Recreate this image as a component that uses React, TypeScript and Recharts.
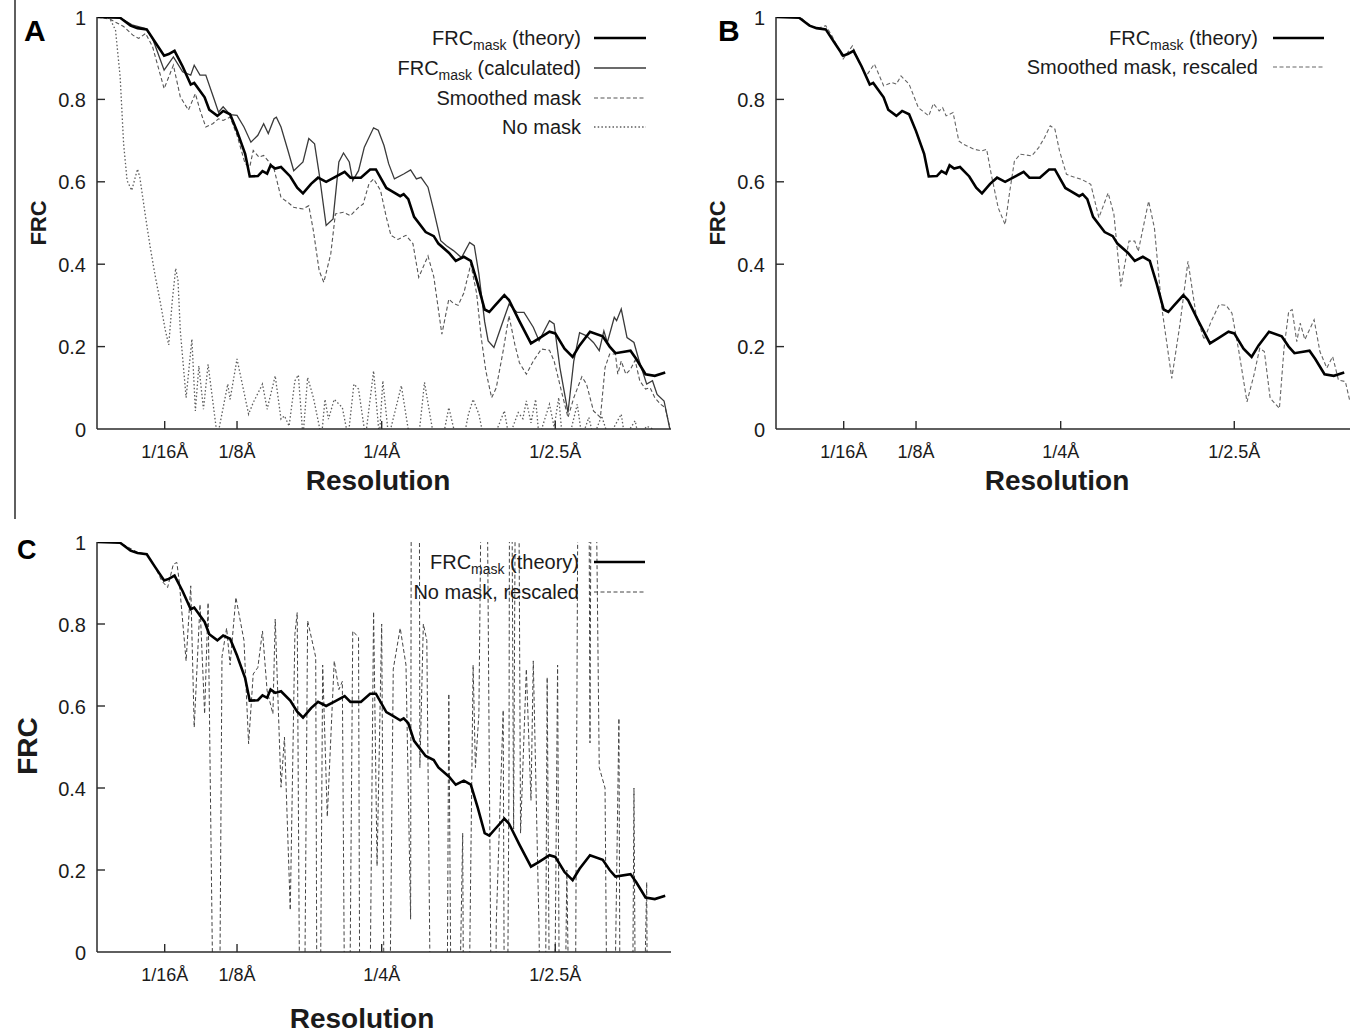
import React from "react";
import { LineChart, Line, XAxis, YAxis } from "recharts";

const FONT = '"Liberation Sans", Arial, Helvetica, sans-serif';
const INK = "#1b1b1b";
const FRAME = "#2a2a2a";

// spatial frequency (1/Å) on x, FRC on y
const freqDomain = [0.004, 0.5];
const freqTicks = [0.0625, 0.125, 0.25, 0.4];
const freqTickLabels = ["1/16Å", "1/8Å", "1/4Å", "1/2.5Å"];
const frcTicks = [0, 0.2, 0.4, 0.6, 0.8, 1];
const frcTickLabels = ["0", "0.2", "0.4", "0.6", "0.8", "1"];
const mirrorTicks = [0.2, 0.4, 0.6, 0.8];

// [frequency, FRC]
const theoryFrc: [number, number][] = [
  [0.004, 1], [0.024, 0.998], [0.033, 0.979], [0.039, 0.973], [0.047, 0.97], [0.054, 0.94],
  [0.062, 0.906], [0.066, 0.91], [0.071, 0.918], [0.078, 0.88], [0.085, 0.836], [0.088, 0.84],
  [0.097, 0.805], [0.101, 0.775], [0.108, 0.76], [0.113, 0.772], [0.119, 0.764], [0.125, 0.723],
  [0.132, 0.668], [0.136, 0.613], [0.143, 0.614], [0.147, 0.626], [0.151, 0.62], [0.154, 0.64],
  [0.158, 0.632], [0.163, 0.636], [0.171, 0.613], [0.177, 0.586], [0.182, 0.572], [0.189, 0.595],
  [0.195, 0.61], [0.202, 0.6], [0.21, 0.612], [0.218, 0.624], [0.223, 0.61], [0.232, 0.61],
  [0.24, 0.63], [0.245, 0.63], [0.254, 0.585], [0.259, 0.577], [0.266, 0.565], [0.269, 0.57],
  [0.273, 0.558], [0.278, 0.515], [0.288, 0.478], [0.295, 0.468], [0.299, 0.45], [0.308, 0.428],
  [0.314, 0.408], [0.321, 0.418], [0.327, 0.408], [0.333, 0.352], [0.339, 0.29], [0.343, 0.284],
  [0.348, 0.3], [0.356, 0.325], [0.36, 0.313], [0.369, 0.262], [0.379, 0.208], [0.386, 0.22],
  [0.395, 0.236], [0.4, 0.232], [0.408, 0.195], [0.415, 0.175], [0.421, 0.203], [0.43, 0.236],
  [0.441, 0.225], [0.447, 0.2], [0.452, 0.184], [0.465, 0.19], [0.47, 0.17], [0.478, 0.133],
  [0.486, 0.129], [0.495, 0.137],
];

const calculatedFrc: [number, number][] = [
  [0.004, 1], [0.024, 0.998], [0.035, 0.98], [0.046, 0.972], [0.052, 0.948], [0.062, 0.871],
  [0.07, 0.903], [0.078, 0.867], [0.085, 0.859], [0.088, 0.883], [0.093, 0.859], [0.098, 0.859],
  [0.105, 0.802], [0.109, 0.769], [0.113, 0.782], [0.119, 0.763], [0.125, 0.761], [0.131, 0.733],
  [0.137, 0.696], [0.143, 0.713], [0.148, 0.741], [0.152, 0.717], [0.157, 0.753], [0.159, 0.757],
  [0.163, 0.733], [0.169, 0.676], [0.174, 0.627], [0.182, 0.648], [0.187, 0.705], [0.192, 0.692],
  [0.196, 0.619], [0.202, 0.494], [0.208, 0.51], [0.213, 0.648], [0.217, 0.67], [0.222, 0.648],
  [0.225, 0.603], [0.23, 0.627], [0.235, 0.684], [0.243, 0.731], [0.247, 0.725], [0.252, 0.688],
  [0.256, 0.644], [0.261, 0.607], [0.269, 0.619], [0.275, 0.629], [0.28, 0.607], [0.284, 0.611],
  [0.29, 0.587], [0.295, 0.53], [0.301, 0.457], [0.306, 0.445], [0.312, 0.433], [0.319, 0.416],
  [0.326, 0.453], [0.33, 0.445], [0.334, 0.376], [0.339, 0.26], [0.342, 0.214], [0.347, 0.198],
  [0.354, 0.255], [0.36, 0.303], [0.367, 0.283], [0.373, 0.283], [0.381, 0.247], [0.386, 0.214],
  [0.395, 0.263], [0.399, 0.255], [0.404, 0.149], [0.411, 0.04], [0.416, 0.165], [0.421, 0.234],
  [0.427, 0.226], [0.433, 0.21], [0.438, 0.19], [0.442, 0.238], [0.445, 0.21], [0.451, 0.271],
  [0.453, 0.263], [0.457, 0.291], [0.462, 0.222], [0.468, 0.21], [0.472, 0.17], [0.479, 0.109],
  [0.484, 0.117], [0.488, 0.084], [0.494, 0.068], [0.499, 0],
];

const smoothedFrc: [number, number][] = [
  [0.004, 1], [0.015, 0.995], [0.027, 0.977], [0.035, 0.956], [0.04, 0.948], [0.046, 0.96],
  [0.052, 0.928], [0.062, 0.826], [0.07, 0.883], [0.076, 0.806], [0.083, 0.774], [0.089, 0.814],
  [0.093, 0.774], [0.098, 0.733], [0.104, 0.741], [0.109, 0.753], [0.113, 0.749], [0.119, 0.757],
  [0.125, 0.713], [0.132, 0.644], [0.136, 0.636], [0.139, 0.676], [0.144, 0.66], [0.148, 0.664],
  [0.154, 0.644], [0.157, 0.631], [0.163, 0.562], [0.169, 0.55], [0.174, 0.538], [0.182, 0.534],
  [0.187, 0.542], [0.191, 0.481], [0.196, 0.384], [0.2, 0.356], [0.206, 0.425], [0.21, 0.522],
  [0.217, 0.526], [0.223, 0.518], [0.23, 0.538], [0.234, 0.546], [0.239, 0.595], [0.243, 0.607],
  [0.249, 0.579], [0.254, 0.514], [0.258, 0.47], [0.264, 0.46], [0.271, 0.47], [0.277, 0.45],
  [0.282, 0.368], [0.29, 0.42], [0.295, 0.37], [0.302, 0.23], [0.308, 0.315], [0.312, 0.305],
  [0.316, 0.3], [0.321, 0.33], [0.327, 0.4], [0.332, 0.33], [0.336, 0.222], [0.34, 0.141],
  [0.345, 0.076], [0.349, 0.1], [0.355, 0.19], [0.36, 0.275], [0.365, 0.206], [0.369, 0.161],
  [0.375, 0.133], [0.381, 0.165], [0.388, 0.194], [0.395, 0.191], [0.399, 0.165], [0.406, 0.084],
  [0.411, 0.028], [0.416, 0.076], [0.423, 0.127], [0.427, 0.109], [0.433, 0.044], [0.439, 0.028],
  [0.443, 0.149], [0.447, 0.182], [0.452, 0.182], [0.454, 0.133], [0.457, 0.165], [0.461, 0.133],
  [0.465, 0.145], [0.469, 0.167], [0.473, 0.117], [0.478, 0.097], [0.482, 0.1], [0.486, 0.076],
  [0.491, 0.06], [0.495, 0.052], [0.499, 0.003],
];

const noMaskFrc: [number, number][] = [
  [0.004, 1], [0.015, 0.997], [0.02, 0.968], [0.024, 0.855], [0.027, 0.692], [0.03, 0.603],
  [0.034, 0.579], [0.039, 0.631], [0.041, 0.611], [0.046, 0.514], [0.05, 0.441], [0.054, 0.376],
  [0.059, 0.303], [0.063, 0.24], [0.066, 0.204], [0.069, 0.31], [0.072, 0.39], [0.074, 0.36],
  [0.076, 0.238], [0.081, 0.076], [0.086, 0.218], [0.089, 0.044], [0.092, 0.153], [0.096, 0.048],
  [0.1, 0.157], [0.108, -0.02], [0.117, 0.109], [0.119, 0.072], [0.125, 0.17], [0.135, 0.036],
  [0.139, 0.064], [0.147, 0.109], [0.151, 0.048], [0.158, 0.129], [0.163, 0.024], [0.166, 0.032],
  [0.17, 0.007], [0.175, 0.117], [0.178, 0.131], [0.182, -0.02], [0.186, 0.125], [0.191, 0.076],
  [0.198, -0.02], [0.201, 0.072], [0.204, 0.024], [0.209, 0.072], [0.216, 0.052], [0.221, -0.02],
  [0.226, 0.109], [0.23, 0.097], [0.236, -0.02], [0.243, 0.141], [0.248, -0.02], [0.251, 0.117],
  [0.256, -0.02], [0.267, 0.105], [0.274, -0.02], [0.282, -0.02], [0.287, 0.113], [0.295, -0.02],
  [0.303, -0.02], [0.308, 0.052], [0.314, -0.02], [0.321, -0.02], [0.325, 0.036], [0.329, 0.072],
  [0.334, 0.036], [0.338, -0.02], [0.347, -0.02], [0.356, 0.044], [0.36, -0.02], [0.368, 0.04],
  [0.372, 0.025], [0.375, 0.068], [0.379, 0.015], [0.383, 0.072], [0.386, -0.02], [0.395, 0.06],
  [0.399, 0.005], [0.403, 0.076], [0.406, -0.02], [0.412, -0.02], [0.419, 0.06], [0.423, -0.02],
  [0.429, 0.028], [0.433, -0.02], [0.44, 0.032], [0.446, -0.02], [0.457, 0.036], [0.46, -0.02],
  [0.469, 0.02], [0.472, -0.02], [0.479, 0.007], [0.499, -0.02],
];

const smoothedRescaledFrc: [number, number][] = [
  [0.004, 1], [0.025, 1], [0.033, 0.979], [0.041, 0.973], [0.047, 0.979], [0.053, 0.951],
  [0.062, 0.898], [0.066, 0.914], [0.07, 0.93], [0.075, 0.894], [0.082, 0.857], [0.089, 0.886],
  [0.097, 0.833], [0.104, 0.841], [0.108, 0.837], [0.112, 0.857], [0.119, 0.837], [0.127, 0.78],
  [0.136, 0.76], [0.14, 0.79], [0.145, 0.772], [0.148, 0.78], [0.151, 0.76], [0.157, 0.768],
  [0.162, 0.699], [0.166, 0.691], [0.175, 0.679], [0.182, 0.675], [0.186, 0.679], [0.19, 0.618],
  [0.196, 0.537], [0.202, 0.496], [0.206, 0.577], [0.21, 0.65], [0.215, 0.667], [0.225, 0.663],
  [0.231, 0.683], [0.236, 0.707], [0.241, 0.736], [0.245, 0.728], [0.249, 0.675], [0.255, 0.618],
  [0.262, 0.611], [0.268, 0.606], [0.276, 0.594], [0.283, 0.513], [0.291, 0.573], [0.296, 0.521],
  [0.302, 0.346], [0.309, 0.456], [0.314, 0.456], [0.317, 0.431], [0.326, 0.553], [0.331, 0.488],
  [0.337, 0.302], [0.346, 0.123], [0.353, 0.253], [0.36, 0.407], [0.367, 0.277], [0.374, 0.217],
  [0.38, 0.261], [0.387, 0.302], [0.393, 0.3], [0.398, 0.281], [0.404, 0.188], [0.411, 0.066],
  [0.417, 0.131], [0.422, 0.196], [0.426, 0.188], [0.431, 0.075], [0.439, 0.05], [0.443, 0.196],
  [0.447, 0.285], [0.45, 0.29], [0.454, 0.212], [0.457, 0.257], [0.461, 0.217], [0.469, 0.265],
  [0.474, 0.188], [0.48, 0.148], [0.485, 0.176], [0.49, 0.119], [0.496, 0.115], [0.5, 0.066],
];

// spikes run past the frame (values beyond 0..1 are clipped)
const noMaskRescaledFrc: [number, number][] = [
  [0.004, 1], [0.024, 0.998], [0.039, 0.975], [0.047, 0.97], [0.054, 0.94], [0.06, 0.905],
  [0.065, 0.889], [0.07, 0.946], [0.073, 0.95], [0.075, 0.905], [0.081, 0.71], [0.085, 0.893],
  [0.088, 0.548], [0.093, 0.848], [0.097, 0.581], [0.1, 0.852], [0.108, -1], [0.112, 0.72],
  [0.116, 0.79], [0.119, 0.7], [0.124, 0.865], [0.131, 0.76], [0.135, 0.508], [0.139, 0.678],
  [0.143, 0.694], [0.147, 0.783], [0.151, 0.637], [0.156, 0.581], [0.158, 0.812], [0.163, 0.402],
  [0.166, 0.524], [0.171, 0.102], [0.175, 0.775], [0.177, 0.828], [0.181, -1], [0.186, 0.808],
  [0.193, 0.719], [0.195, -1], [0.199, 0.7], [0.203, 0.33], [0.209, 0.71], [0.213, 0.64],
  [0.216, 0.66], [0.22, -1], [0.225, 0.783], [0.23, 0.767], [0.232, -1], [0.237, -1],
  [0.243, 0.83], [0.246, 0.21], [0.25, 0.8], [0.254, -1], [0.26, 0.69], [0.266, 0.79],
  [0.271, 0.7], [0.275, 0.08], [0.276, 2], [0.282, 2], [0.283, 0.45], [0.286, 0.8],
  [0.289, 0.76], [0.295, -1], [0.305, -1], [0.308, 0.63], [0.312, -1], [0.32, 0.29],
  [0.322, -1], [0.329, 0.7], [0.331, 0.45], [0.334, 0.58], [0.339, 2], [0.343, 0.45],
  [0.347, -1], [0.349, 0.07], [0.355, 0.59], [0.357, -1], [0.36, 0.43], [0.361, 2],
  [0.364, 0.3], [0.367, 2], [0.37, 0.29], [0.375, 0.69], [0.379, 0.37], [0.381, 0.71],
  [0.386, 0.05], [0.39, -1], [0.393, 0.67], [0.397, -1], [0.402, 0.7], [0.405, -1],
  [0.41, 0.2], [0.416, -1], [0.421, 2], [0.428, 2], [0.43, 0.51], [0.432, 2],
  [0.438, 0.45], [0.443, 0.4], [0.447, -1], [0.455, 0.57], [0.457, -1], [0.465, -1],
  [0.468, 0.4], [0.471, -1], [0.479, 0.17], [0.481, -1],
];

type Style = { stroke: string; width: number; dash?: string };

const THEORY: Style = { stroke: "#000000", width: 2.6 };
const CALC: Style = { stroke: "#3a3a3a", width: 1.3 };
const SMOOTH: Style = { stroke: "#555555", width: 1.1, dash: "4 2.5" };
const NOMASK: Style = { stroke: "#5c5c5c", width: 1.3, dash: "1.5 2.2" };
const RESCALED: Style = { stroke: "#666666", width: 1.1, dash: "4 2.5" };
const NOMASK_RS: Style = { stroke: "#444444", width: 1, dash: "4 2.5" };

const toPoints = (pairs: [number, number][]) => pairs.map(([f, v]) => ({ f, v }));

function renderFreqTick(props: any) {
  const { x, y, payload } = props;
  const label = freqTickLabels[freqTicks.indexOf(payload.value)];
  return (
    <g>
      <line x1={x} x2={x} y1={y} y2={y - 8} stroke={FRAME} strokeWidth={1.4} />
      <text x={x} y={y + 29} textAnchor="middle" fontSize={18} fill={INK} fontFamily={FONT}>
        {label}
      </text>
    </g>
  );
}

function renderFrcTick(props: any) {
  const { x, y, payload } = props;
  const v = payload.value;
  return (
    <g>
      {v > 0 && v < 1 && <line x1={x} x2={x + 8} y1={y} y2={y} stroke={FRAME} strokeWidth={1.4} />}
      <text x={x - 11} y={y + 7.5} textAnchor="end" fontSize={20} fill={INK} fontFamily={FONT}>
        {frcTickLabels[frcTicks.indexOf(v)]}
      </text>
    </g>
  );
}

function renderMirrorTick(props: any) {
  const { x, y } = props;
  return <line x1={x} x2={x - 8} y1={y} y2={y} stroke={FRAME} strokeWidth={1.4} />;
}

type Series = { name: string; data: [number, number][]; style: Style };

type PanelProps = {
  left: number;
  top: number;
  width: number;
  height: number;
  margin: { top: number; right: number; bottom: number; left: number };
  series: Series[];
};

const frameLine = { stroke: FRAME, strokeWidth: 1.5 };

function Panel({ left, top, width, height, margin, series }: PanelProps) {
  return (
    <div style={{ position: "absolute", left, top }}>
      <LineChart width={width} height={height} margin={margin}>
        <XAxis
          dataKey="f"
          type="number"
          domain={freqDomain}
          allowDataOverflow
          ticks={freqTicks}
          interval={0}
          height={30}
          tickSize={0}
          tickMargin={0}
          tickLine={false}
          tick={renderFreqTick}
          axisLine={frameLine}
        />
        <XAxis
          xAxisId="top"
          orientation="top"
          dataKey="f"
          type="number"
          domain={freqDomain}
          allowDataOverflow
          height={0}
          tick={false}
          tickLine={false}
          axisLine={frameLine}
        />
        <YAxis
          type="number"
          domain={[0, 1]}
          allowDataOverflow
          ticks={frcTicks}
          interval={0}
          width={40}
          tickSize={0}
          tickMargin={0}
          tickLine={false}
          tick={renderFrcTick}
          axisLine={frameLine}
        />
        <YAxis
          yAxisId="r"
          orientation="right"
          type="number"
          domain={[0, 1]}
          allowDataOverflow
          ticks={mirrorTicks}
          interval={0}
          width={0}
          tickSize={0}
          tickMargin={0}
          tickLine={false}
          tick={renderMirrorTick}
          axisLine={frameLine}
        />
        {series.map((s) => (
          <Line
            key={s.name}
            name={s.name}
            data={toPoints(s.data)}
            dataKey="v"
            type="linear"
            stroke={s.style.stroke}
            strokeWidth={s.style.width}
            strokeDasharray={s.style.dash}
            dot={false}
            activeDot={false}
            isAnimationActive={false}
          />
        ))}
      </LineChart>
    </div>
  );
}

type LegendItem = { main: string; sub?: string; rest?: string; style: Style };

function Legend({ textRight, x0, x1, rows, items }: { textRight: number; x0: number; x1: number; rows: number[]; items: LegendItem[] }) {
  return (
    <g>
      {items.map((it, i) => (
        <g key={i}>
          <text
            x={textRight}
            y={rows[i] + 7}
            textAnchor="end"
            fontSize={20}
            fill={INK}
            fontFamily={FONT}
            style={{ whiteSpace: "pre" }}
          >
            {it.main}
            {it.sub && (
              <tspan dy={5} fontSize={14}>
                {it.sub}
              </tspan>
            )}
            {it.rest && <tspan dy={it.sub ? -5 : 0}>{it.rest}</tspan>}
          </text>
          <line
            x1={x0}
            x2={x1}
            y1={rows[i]}
            y2={rows[i]}
            stroke={it.style.stroke}
            strokeWidth={it.style.width}
            strokeDasharray={it.style.dash}
          />
        </g>
      ))}
    </g>
  );
}

const theoryItem: LegendItem = { main: "FRC", sub: "mask", rest: " (theory)", style: THEORY };

export default function App() {
  const marginTop = { top: 17, right: 9, bottom: 51, left: 57 };
  return (
    <div style={{ position: "absolute", left: 0, top: 0, width: 1352, height: 1033, background: "#fff", overflow: "hidden" }}>
      <Panel
        left={0}
        top={0}
        width={680}
        height={510}
        margin={marginTop}
        series={[
          { name: "No mask", data: noMaskFrc, style: NOMASK },
          { name: "Smoothed mask", data: smoothedFrc, style: SMOOTH },
          { name: "FRC mask (calculated)", data: calculatedFrc, style: CALC },
          { name: "FRC mask (theory)", data: theoryFrc, style: THEORY },
        ]}
      />
      <Panel
        left={680}
        top={0}
        width={672}
        height={510}
        margin={{ top: 17, right: 2, bottom: 51, left: 56 }}
        series={[
          { name: "Smoothed mask, rescaled", data: smoothedRescaledFrc, style: RESCALED },
          { name: "FRC mask (theory)", data: theoryFrc, style: THEORY },
        ]}
      />
      <Panel
        left={0}
        top={520}
        width={680}
        height={513}
        margin={{ top: 22, right: 9, bottom: 51, left: 57 }}
        series={[
          { name: "No mask, rescaled", data: noMaskRescaledFrc, style: NOMASK_RS },
          { name: "FRC mask (theory)", data: theoryFrc, style: THEORY },
        ]}
      />
      <svg
        width={1352}
        height={1033}
        style={{ position: "absolute", left: 0, top: 0, pointerEvents: "none" }}
        fontFamily={FONT}
      >
        <line x1={15} x2={15} y1={0} y2={519} stroke={FRAME} strokeWidth={1.5} />

        <text x={24} y={41} fontSize={30} fontWeight={900} fill="#000">A</text>
        <text x={718} y={41} fontSize={30} fontWeight={900} fill="#000">B</text>
        <text x={17} y={559} fontSize={27} fontWeight={900} fill="#000">C</text>

        <text transform="translate(46,223) rotate(-90)" textAnchor="middle" fontSize={22} fontWeight={700} fill={INK}>FRC</text>
        <text transform="translate(725,223) rotate(-90)" textAnchor="middle" fontSize={22} fontWeight={700} fill={INK}>FRC</text>
        <text transform="translate(37,746) rotate(-90)" textAnchor="middle" fontSize={28} fontWeight={700} fill={INK}>FRC</text>

        <text x={378} y={490} textAnchor="middle" fontSize={28} fontWeight={700} fill={INK}>Resolution</text>
        <text x={1057} y={490} textAnchor="middle" fontSize={28} fontWeight={700} fill={INK}>Resolution</text>
        <text x={362} y={1028} textAnchor="middle" fontSize={28} fontWeight={700} fill={INK}>Resolution</text>

        <Legend
          textRight={581}
          x0={594}
          x1={646}
          rows={[38, 68, 98, 127]}
          items={[
            theoryItem,
            { main: "FRC", sub: "mask", rest: " (calculated)", style: CALC },
            { main: "Smoothed mask", style: SMOOTH },
            { main: "No mask", style: NOMASK },
          ]}
        />
        <Legend
          textRight={1258}
          x0={1273}
          x1={1324}
          rows={[38, 67]}
          items={[theoryItem, { main: "Smoothed mask, rescaled", style: RESCALED }]}
        />
        <Legend
          textRight={579}
          x0={594}
          x1={645}
          rows={[562, 592]}
          items={[theoryItem, { main: "No mask, rescaled", style: NOMASK_RS }]}
        />
      </svg>
    </div>
  );
}
